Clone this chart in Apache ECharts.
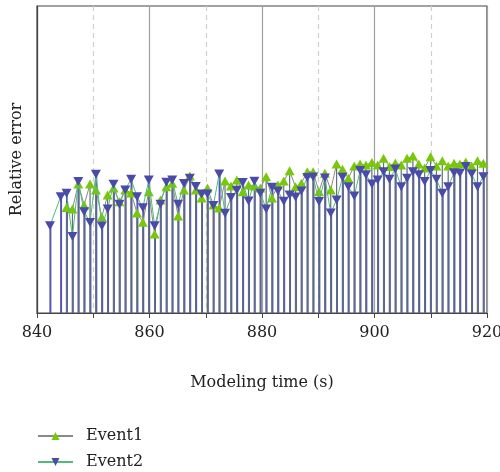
<!DOCTYPE html>
<html>
<head>
<meta charset="utf-8">
<script src="https://cdn.jsdelivr.net/npm/echarts@6/dist/echarts.min.js"></script>
<style>
html,body{margin:0;padding:0;background:#fff;overflow:hidden;}
#chart{width:500px;height:472px;}
</style>
</head>
<body>
<div id="chart"></div>
<script>
var times = [842.31, 844.21, 845.25, 846.30, 847.34, 848.38, 849.43, 850.47, 851.52, 852.56,
  853.60, 854.65, 855.69, 856.73, 857.78, 858.82, 859.87, 860.91, 861.95, 863.00,
  864.04, 865.08, 866.13, 867.17, 868.22, 869.26, 870.30, 871.35, 872.39, 873.43,
  874.48, 875.52, 876.57, 877.61, 878.65, 879.70, 880.74, 881.78, 882.83, 883.87,
  884.91, 885.96, 887.00, 888.05, 889.09, 890.13, 891.18, 892.22, 893.26, 894.31,
  895.35, 896.40, 897.44, 898.48, 899.53, 900.57, 901.61, 902.66, 903.70, 904.75,
  905.79, 906.83, 907.88, 908.92, 909.96, 911.01, 912.05, 913.10, 914.14, 915.18,
  916.23, 917.27, 918.31, 919.36];

var event1 = [null, null, 34.4, 33.9, 42.0, 35.2, 42.0, 40.1, 31.3, 38.4,
  40.7, 36.2, 40.1, 39.1, 32.6, 29.6, 39.5, 25.7, 36.8, 41.1,
  42.3, 31.6, 40.1, 44.6, 40.1, 37.5, 40.7, 35.2, 34.2, 43.0,
  41.4, 43.3, 39.5, 41.7, 41.4, 40.7, 44.4, 37.5, 41.7, 43.0,
  46.3, 41.1, 42.3, 46.0, 46.0, 39.5, 45.5, 40.1, 48.5, 46.8,
  43.9, 47.9, 48.5, 48.2, 49.0, 48.2, 50.4, 47.7, 48.9, 48.2,
  50.4, 51.1, 48.5, 47.2, 50.9, 47.9, 49.6, 47.9, 48.8, 48.5,
  49.2, 47.9, 49.6, 48.8];

var event2 = [28.4, 37.9, 39.0, 24.9, 42.8, 33.0, 29.5, 45.2, 28.3, 33.9,
  41.9, 35.4, 40.1, 43.6, 37.9, 34.3, 43.3, 28.4, 35.4, 42.6,
  43.3, 35.4, 42.2, 43.9, 41.2, 38.8, 38.8, 35.0, 45.3, 32.5,
  37.6, 40.0, 42.5, 36.5, 42.9, 39.0, 33.9, 41.0, 39.7, 36.4,
  38.4, 37.8, 39.7, 44.1, 44.3, 36.3, 44.0, 32.6, 36.8, 44.2,
  41.1, 38.1, 46.4, 45.0, 42.0, 43.3, 46.0, 43.6, 46.9, 41.1,
  43.9, 46.0, 45.0, 42.8, 46.4, 43.6, 39.0, 41.1, 45.7, 45.5,
  47.7, 45.3, 41.1, 44.4];

var xTicks = [840, 860, 880, 900, 920];
var seriesNames = ['Event1', 'Event2'];

function pairs(vals) {
  var out = [];
  for (var i = 0; i < times.length; i++) {
    if (vals[i] !== null) out.push([times[i], vals[i]]);
  }
  return out;
}

var FONT = 'DejaVu Serif';
var chart = echarts.init(document.getElementById('chart'), null, {renderer: 'canvas'});
chart.setOption({
  animation: false,
  backgroundColor: '#ffffff',
  grid: {left: 37, right: 13, top: 6, height: 307, containLabel: false, outerBoundsMode: 'none',
         show: true, borderColor: '#444', borderWidth: 1.2, backgroundColor: 'transparent'},
  legend: {
    data: seriesNames,
    orient: 'vertical',
    left: 37,
    top: 428,
    height: 44,
    itemWidth: 35,
    itemHeight: 10,
    itemGap: 10,
    padding: 0,
    textStyle: {fontFamily: FONT, fontSize: 16, lineHeight: 16, color: '#222', padding: [0, 0, 0, 8]}
  },
  xAxis: {
    type: 'value',
    min: xTicks[0],
    max: xTicks[xTicks.length - 1],
    interval: 20,
    name: 'Modeling time (s)',
    nameLocation: 'middle',
    nameGap: 62,
    nameTextStyle: {fontFamily: FONT, fontSize: 16, color: '#222'},
    axisLine: {show: true, lineStyle: {color: '#444', width: 1.2}},
    axisTick: {show: true, length: 5, lineStyle: {color: '#444'}},
    minorTick: {show: true, splitNumber: 2, length: 5, lineStyle: {color: '#444'}},
    axisLabel: {fontFamily: FONT, fontSize: 16, color: '#222', margin: 12},
    splitLine: {show: true, lineStyle: {color: '#a0a0a0', width: 1.2}},
    minorSplitLine: {show: true, lineStyle: {color: '#cfcfcf', type: [5, 4], width: 1.2}}
  },
  yAxis: {
    type: 'value',
    min: 0,
    max: 100,
    name: 'Relative error',
    nameLocation: 'middle',
    nameGap: 12,
    nameTextStyle: {fontFamily: FONT, fontSize: 16, color: '#222'},
    axisLine: {show: true, lineStyle: {color: '#444', width: 1.2}},
    axisTick: {show: false},
    axisLabel: {show: false},
    splitLine: {show: false}
  },
  series: [
    {
      name: 'stem2', type: 'bar', data: pairs(event2), barWidth: 2, barGap: '-100%',
      itemStyle: {color: '#5555b4'}, z: 1, silent: true
    },
    {
      name: 'stem1', type: 'bar', data: pairs(event1), barWidth: 1.2, barGap: '-100%',
      itemStyle: {color: '#5f7272'}, z: 1, silent: true
    },
    {
      name: 'Event1', type: 'line', data: pairs(event1), z: 3,
      lineStyle: {color: '#8a8a8a', width: 1},
      itemStyle: {color: '#78c80a'},
      symbol: 'triangle', symbolSize: [10, 9], showAllSymbol: true
    },
    {
      name: 'Event2', type: 'line', data: pairs(event2), z: 4,
      lineStyle: {color: '#52bb78', width: 1},
      itemStyle: {color: '#4a4aa8'},
      symbol: 'triangle', symbolRotate: 180, symbolSize: [10, 9], showAllSymbol: true
    }
  ]
});
</script>
</body>
</html>
